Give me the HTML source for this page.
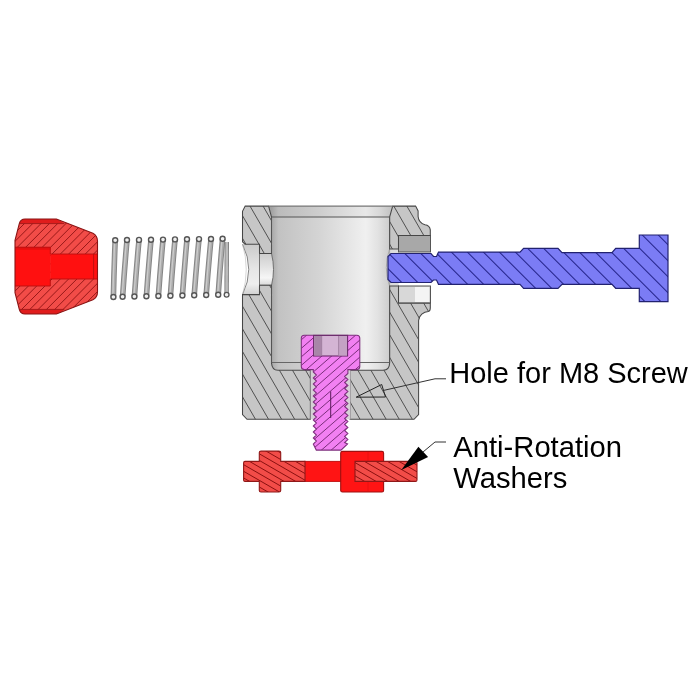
<!DOCTYPE html>
<html><head><meta charset="utf-8"><style>html,body{margin:0;padding:0;background:#fff;}svg{display:block;} text{-webkit-font-smoothing:antialiased;} .txt{will-change:transform;}</style></head>
<body><svg width="700" height="700" viewBox="0 0 700 700">
<defs><clipPath id="capc"><path d="M15 240.4 L19.3 223.6 Q20.6 219 25 219 L56.4 219 L92.9 233.3 Q97.5 235.8 97.5 241.1 L97.5 291.9 Q97.5 297.2 92.9 299.7 L56.4 314 L25 314 Q20.6 314 19.3 309.4 L15 292.6 Z"/></clipPath><linearGradient id="bore" x1="271.5" x2="389.5" y1="0" y2="0" gradientUnits="userSpaceOnUse">
<stop offset="0" stop-color="#a8a8a8"/><stop offset="0.06" stop-color="#c2c2c2"/><stop offset="0.4" stop-color="#d4d4d4"/><stop offset="0.8" stop-color="#f0f0f0"/><stop offset="0.9" stop-color="#e2e2e2"/><stop offset="1" stop-color="#cdcdcd"/></linearGradient><linearGradient id="hole" x1="0" x2="0" y1="244" y2="294" gradientUnits="userSpaceOnUse">
<stop offset="0" stop-color="#cacaca"/><stop offset="0.5" stop-color="#e6e6e6"/><stop offset="0.8" stop-color="#eeeeee"/><stop offset="1" stop-color="#d2d2d2"/></linearGradient>
<linearGradient id="hole2" x1="0" x2="0" y1="253" y2="286" gradientUnits="userSpaceOnUse">
<stop offset="0" stop-color="#cccccc"/><stop offset="0.45" stop-color="#e4e4e4"/><stop offset="0.75" stop-color="#f6f6f6"/><stop offset="1" stop-color="#d6d6d6"/></linearGradient><clipPath id="bodyc"><path d="M245.2 206.1 H268.6 L271.5 217 V253.5 H259.5 V244.2 H245 L242.5 241.7 V211.3 Z"/><path d="M242.5 294.6 H259.5 V285.3 H271.5 V363 Q272 370.3 278 370.3 H310.4 V419.3 H247 L242.5 414.5 Z"/><path d="M392.7 206.1 H415.6 L418.1 210.9 V216.5 A9.5 9.5 0 0 0 425 224.7 A6 6 0 0 1 430.3 229.8 V235.5 H398.5 V249 H389.6 V217 Z"/><path d="M389.6 286 H398.5 V303.3 H430.3 V308 Q430.3 311 428.4 311.5 A10 10 0 0 0 418.6 320.5 V414.5 L414 419.3 H350 V370.3 H383 Q389.6 370 389.6 363 Z"/></clipPath><clipPath id="shc"><path d="M391 253.5 H431 L433.5 256.5 H436.5 L438.5 252.1 H520 L523.6 248.3 H558 L562 252.6 H612 L615.7 248.3 H639.3 V235 H668 V301.7 H639.3 V288.3 H615.7 L612 284.3 H562 L558 288.3 H523.6 L520 284.3 H438.5 L436.5 280 H433.5 L431 282.5 H391 L388 279.5 V256.5 Z"/></clipPath><clipPath id="scc"><path d="M304.3 335.2 H356.8 Q359.8 335.2 359.8 338.2 V366.6 Q359.8 369.6 356.8 369.6 H347.9 L347.9 373.50 L344.6 376.50 L347.9 379.50 L344.6 382.50 L347.9 385.50 L344.6 388.50 L347.9 391.50 L344.6 394.50 L347.9 397.50 L344.6 400.50 L347.9 403.50 L344.6 406.50 L347.9 409.50 L344.6 412.50 L347.9 415.50 L344.6 418.50 L347.9 421.50 L344.6 424.50 L347.9 427.50 L344.6 430.50 L347.9 433.50 L344.6 436.50 L347.9 439.50 L344.6 442.50 L347.6 444 L341 450.1 H316.3 L313.3 444 L316.4 441.00 L313.3 438.00 L316.4 435.00 L313.3 432.00 L316.4 429.00 L313.3 426.00 L316.4 423.00 L313.3 420.00 L316.4 417.00 L313.3 414.00 L316.4 411.00 L313.3 408.00 L316.4 405.00 L313.3 402.00 L316.4 399.00 L313.3 396.00 L316.4 393.00 L313.3 390.00 L316.4 387.00 L313.3 384.00 L316.4 381.00 L313.3 378.00 L316.4 375.00 L313.3 372.00 L313.3 369.6 H304.3 Q301.3 369.6 301.3 366.6 V338.2 Q301.3 335.2 304.3 335.2 Z"/></clipPath><clipPath id="wc"><path d="M245 461.4 H259.3 V452.5 Q259.3 451.1 261 451.1 H279 Q280.7 451.1 280.7 452.5 V461.4 H305 V481.4 H280.7 V490.5 Q280.7 492 279 492 H261 Q259.3 492 259.3 490.5 V481.4 H245 Q243.6 481.4 243.6 480 V463 Q243.6 461.4 245 461.4 Z"/><path d="M355 461.4 H415.5 Q417 461.4 417 463 V480 Q417 481.4 415.5 481.4 H355 Z"/></clipPath></defs>
<rect width="700" height="700" fill="#fff"/>
<path d="M15 240.4 L19.3 223.6 Q20.6 219 25 219 L56.4 219 L92.9 233.3 Q97.5 235.8 97.5 241.1 L97.5 291.9 Q97.5 297.2 92.9 299.7 L56.4 314 L25 314 Q20.6 314 19.3 309.4 L15 292.6 Z" fill="#f24c48"/>
<path clip-path="url(#capc)" d="M-11.80 210L-121.80 320M-3.50 210L-113.50 320M4.80 210L-105.20 320M13.10 210L-96.90 320M21.40 210L-88.60 320M29.70 210L-80.30 320M38.00 210L-72.00 320M46.30 210L-63.70 320M54.60 210L-55.40 320M62.90 210L-47.10 320M71.20 210L-38.80 320M79.50 210L-30.50 320M87.80 210L-22.20 320M96.10 210L-13.90 320M104.40 210L-5.60 320M112.70 210L2.70 320M121.00 210L11.00 320M129.30 210L19.30 320M137.60 210L27.60 320M145.90 210L35.90 320M154.20 210L44.20 320M162.50 210L52.50 320M170.80 210L60.80 320M179.10 210L69.10 320M187.40 210L77.40 320M195.70 210L85.70 320M204.00 210L94.00 320M212.30 210L102.30 320M220.60 210L110.60 320M228.90 210L118.90 320" stroke="#921616" stroke-width="0.95" fill="none"/>
<path d="M19.3 223.6 Q20.6 219 25 219 L56.4 219 L64.3 223.6 Z" fill="#e01c1c"/>
<path d="M19.3 309.4 Q20.6 314 25 314 L56.4 314 L64.3 309.4 Z" fill="#e01c1c"/>
<rect x="15" y="247.2" width="35.3" height="38.8" fill="#ff1010"/>
<rect x="50.3" y="254" width="47.2" height="25" fill="#ff1010"/>
<rect x="15" y="247.2" width="35.3" height="2.5" fill="#e41010"/>
<path d="M15 247.2 H50.3 V254 H97.5 M97.5 279 H50.3 V286 H15 M93.6 254 V279" stroke="#b81010" stroke-width="0.9" fill="none"/>
<path d="M19.3 223.6 H64.3 M19.3 309.4 H64.3" stroke="#a01818" stroke-width="0.9" fill="none"/>
<path d="M15 240.4 L19.3 223.6 Q20.6 219 25 219 L56.4 219 L92.9 233.3 Q97.5 235.8 97.5 241.1 L97.5 291.9 Q97.5 297.2 92.9 299.7 L56.4 314 L25 314 Q20.6 314 19.3 309.4 L15 292.6 Z" fill="none" stroke="#8a1414" stroke-width="1.1"/>
<path d="M115.2 240.20 Q114.00000000000001 268.60 113.4 297.00" stroke="#858585" stroke-width="5.6" fill="none"/>
<path d="M115.2 240.20 Q114.00000000000001 268.60 113.4 297.00" stroke="#acacac" stroke-width="3.6" fill="none"/>
<path d="M115.2 240.20 Q114.00000000000001 268.60 113.4 297.00" stroke="#cbcbcb" stroke-width="1.3" fill="none" transform="translate(-0.5,0)"/>
<circle cx="115.2" cy="240.20" r="2.5" fill="#f0f0f0" stroke="#555" stroke-width="1.4"/>
<circle cx="113.4" cy="297.00" r="2.5" fill="#f0f0f0" stroke="#555" stroke-width="1.4"/>
<path d="M127 240.04 Q124.5 268.40 122.6 296.76" stroke="#858585" stroke-width="5.6" fill="none"/>
<path d="M127 240.04 Q124.5 268.40 122.6 296.76" stroke="#acacac" stroke-width="3.6" fill="none"/>
<path d="M127 240.04 Q124.5 268.40 122.6 296.76" stroke="#cbcbcb" stroke-width="1.3" fill="none" transform="translate(-0.5,0)"/>
<circle cx="127" cy="240.04" r="2.5" fill="#f0f0f0" stroke="#555" stroke-width="1.4"/>
<circle cx="122.6" cy="296.76" r="2.5" fill="#f0f0f0" stroke="#555" stroke-width="1.4"/>
<path d="M139 239.89 Q136.39999999999998 268.20 134.4 296.51" stroke="#858585" stroke-width="5.6" fill="none"/>
<path d="M139 239.89 Q136.39999999999998 268.20 134.4 296.51" stroke="#acacac" stroke-width="3.6" fill="none"/>
<path d="M139 239.89 Q136.39999999999998 268.20 134.4 296.51" stroke="#cbcbcb" stroke-width="1.3" fill="none" transform="translate(-0.5,0)"/>
<circle cx="139" cy="239.89" r="2.5" fill="#f0f0f0" stroke="#555" stroke-width="1.4"/>
<circle cx="134.4" cy="296.51" r="2.5" fill="#f0f0f0" stroke="#555" stroke-width="1.4"/>
<path d="M151 239.73 Q148.39999999999998 268.00 146.4 296.27" stroke="#858585" stroke-width="5.6" fill="none"/>
<path d="M151 239.73 Q148.39999999999998 268.00 146.4 296.27" stroke="#acacac" stroke-width="3.6" fill="none"/>
<path d="M151 239.73 Q148.39999999999998 268.00 146.4 296.27" stroke="#cbcbcb" stroke-width="1.3" fill="none" transform="translate(-0.5,0)"/>
<circle cx="151" cy="239.73" r="2.5" fill="#f0f0f0" stroke="#555" stroke-width="1.4"/>
<circle cx="146.4" cy="296.27" r="2.5" fill="#f0f0f0" stroke="#555" stroke-width="1.4"/>
<path d="M163 239.58 Q160.39999999999998 267.80 158.4 296.02" stroke="#858585" stroke-width="5.6" fill="none"/>
<path d="M163 239.58 Q160.39999999999998 267.80 158.4 296.02" stroke="#acacac" stroke-width="3.6" fill="none"/>
<path d="M163 239.58 Q160.39999999999998 267.80 158.4 296.02" stroke="#cbcbcb" stroke-width="1.3" fill="none" transform="translate(-0.5,0)"/>
<circle cx="163" cy="239.58" r="2.5" fill="#f0f0f0" stroke="#555" stroke-width="1.4"/>
<circle cx="158.4" cy="296.02" r="2.5" fill="#f0f0f0" stroke="#555" stroke-width="1.4"/>
<path d="M175 239.42 Q172.39999999999998 267.60 170.4 295.78" stroke="#858585" stroke-width="5.6" fill="none"/>
<path d="M175 239.42 Q172.39999999999998 267.60 170.4 295.78" stroke="#acacac" stroke-width="3.6" fill="none"/>
<path d="M175 239.42 Q172.39999999999998 267.60 170.4 295.78" stroke="#cbcbcb" stroke-width="1.3" fill="none" transform="translate(-0.5,0)"/>
<circle cx="175" cy="239.42" r="2.5" fill="#f0f0f0" stroke="#555" stroke-width="1.4"/>
<circle cx="170.4" cy="295.78" r="2.5" fill="#f0f0f0" stroke="#555" stroke-width="1.4"/>
<path d="M187 239.27 Q184.39999999999998 267.40 182.4 295.53" stroke="#858585" stroke-width="5.6" fill="none"/>
<path d="M187 239.27 Q184.39999999999998 267.40 182.4 295.53" stroke="#acacac" stroke-width="3.6" fill="none"/>
<path d="M187 239.27 Q184.39999999999998 267.40 182.4 295.53" stroke="#cbcbcb" stroke-width="1.3" fill="none" transform="translate(-0.5,0)"/>
<circle cx="187" cy="239.27" r="2.5" fill="#f0f0f0" stroke="#555" stroke-width="1.4"/>
<circle cx="182.4" cy="295.53" r="2.5" fill="#f0f0f0" stroke="#555" stroke-width="1.4"/>
<path d="M199 239.11 Q196.29999999999998 267.20 194.2 295.29" stroke="#858585" stroke-width="5.6" fill="none"/>
<path d="M199 239.11 Q196.29999999999998 267.20 194.2 295.29" stroke="#acacac" stroke-width="3.6" fill="none"/>
<path d="M199 239.11 Q196.29999999999998 267.20 194.2 295.29" stroke="#cbcbcb" stroke-width="1.3" fill="none" transform="translate(-0.5,0)"/>
<circle cx="199" cy="239.11" r="2.5" fill="#f0f0f0" stroke="#555" stroke-width="1.4"/>
<circle cx="194.2" cy="295.29" r="2.5" fill="#f0f0f0" stroke="#555" stroke-width="1.4"/>
<path d="M211 238.96 Q208.29999999999998 267.00 206.2 295.04" stroke="#858585" stroke-width="5.6" fill="none"/>
<path d="M211 238.96 Q208.29999999999998 267.00 206.2 295.04" stroke="#acacac" stroke-width="3.6" fill="none"/>
<path d="M211 238.96 Q208.29999999999998 267.00 206.2 295.04" stroke="#cbcbcb" stroke-width="1.3" fill="none" transform="translate(-0.5,0)"/>
<circle cx="211" cy="238.96" r="2.5" fill="#f0f0f0" stroke="#555" stroke-width="1.4"/>
<circle cx="206.2" cy="295.04" r="2.5" fill="#f0f0f0" stroke="#555" stroke-width="1.4"/>
<path d="M222.6 238.80 Q220.09999999999997 266.80 218.2 294.80" stroke="#858585" stroke-width="5.6" fill="none"/>
<path d="M222.6 238.80 Q220.09999999999997 266.80 218.2 294.80" stroke="#acacac" stroke-width="3.6" fill="none"/>
<path d="M222.6 238.80 Q220.09999999999997 266.80 218.2 294.80" stroke="#cbcbcb" stroke-width="1.3" fill="none" transform="translate(-0.5,0)"/>
<circle cx="222.6" cy="238.80" r="2.5" fill="#f0f0f0" stroke="#555" stroke-width="1.4"/>
<circle cx="218.2" cy="294.80" r="2.5" fill="#f0f0f0" stroke="#555" stroke-width="1.4"/>
<path d="M226.8 242 L226.6 294.8" stroke="#7f7f7f" stroke-width="4.4" fill="none"/>
<path d="M226.8 242 L226.6 294.8" stroke="#bcbcbc" stroke-width="2.6" fill="none"/>
<circle cx="226.6" cy="294.8" r="2.4" fill="#f0f0f0" stroke="#555" stroke-width="1.3"/>
<rect x="271.5" y="206" width="118" height="164" fill="url(#bore)"/>
<path d="M268.6 206 H392.7 L389.6 217 H271.5 Z" fill="url(#bore)"/>
<path d="M268.6 206 H392.7 L389.6 217 H271.5 Z" fill="#000" opacity="0.03"/>
<path d="M271.5 217 H389.6" stroke="#555" stroke-width="1"/>
<path d="M271.5 362.5 H389.6" stroke="#666" stroke-width="1"/>
<path d="M242.5 244.2 Q255 269.4 242.5 294.6 H259.5 V244.2 Z" fill="url(#hole)"/>
<path d="M242.5 244.2 Q255 269.4 242.5 294.6" fill="none" stroke="#777" stroke-width="0.9"/>
<path d="M242.5 244.2 Q250 269.4 242.5 294.6" fill="none" stroke="#bbb" stroke-width="0.6"/>
<path d="M259.5 253.5 H271.5 Q275.5 269.4 271.5 285.3 H259.5 Z" fill="url(#hole2)" stroke="#666" stroke-width="0.9"/>
<rect x="389.6" y="249" width="9" height="37" fill="#dcdcdc"/>
<path d="M389.6 249 Q383 267.5 389.6 286 Z" fill="#e6e6e6" stroke="#999" stroke-width="0.8"/>
<rect x="398.5" y="235.5" width="32" height="16.5" fill="#a8a8a8" stroke="#555" stroke-width="1"/>
<rect x="398.5" y="286" width="32" height="17" fill="#d8d8d8" stroke="#555" stroke-width="1"/>
<rect x="415" y="287" width="14" height="15" fill="#f4f4f4"/>
<path d="M245.2 206.1 H268.6 L271.5 217 V253.5 H259.5 V244.2 H245 L242.5 241.7 V211.3 Z" fill="#c6c6c6"/>
<path d="M242.5 294.6 H259.5 V285.3 H271.5 V363 Q272 370.3 278 370.3 H310.4 V419.3 H247 L242.5 414.5 Z" fill="#c6c6c6"/>
<path d="M392.7 206.1 H415.6 L418.1 210.9 V216.5 A9.5 9.5 0 0 0 425 224.7 A6 6 0 0 1 430.3 229.8 V235.5 H398.5 V249 H389.6 V217 Z" fill="#c6c6c6"/>
<path d="M389.6 286 H398.5 V303.3 H430.3 V308 Q430.3 311 428.4 311.5 A10 10 0 0 0 418.6 320.5 V414.5 L414 419.3 H350 V370.3 H383 Q389.6 370 389.6 363 Z" fill="#c6c6c6"/>
<path clip-path="url(#bodyc)" d="M76.59 200L206.49 425M89.66 200L219.56 425M102.73 200L232.63 425M115.80 200L245.70 425M128.87 200L258.77 425M141.94 200L271.84 425M155.01 200L284.91 425M168.08 200L297.98 425M181.15 200L311.05 425M194.22 200L324.12 425M207.29 200L337.19 425M220.36 200L350.26 425M233.43 200L363.33 425M246.50 200L376.40 425M259.57 200L389.47 425M272.64 200L402.54 425M285.71 200L415.61 425M298.78 200L428.68 425M311.85 200L441.75 425M324.92 200L454.82 425M337.99 200L467.89 425M351.06 200L480.96 425M364.13 200L494.03 425M377.20 200L507.10 425M390.27 200L520.17 425M403.34 200L533.24 425M416.41 200L546.31 425M429.48 200L559.38 425M442.55 200L572.45 425M455.62 200L585.52 425" stroke="#4a4a4a" stroke-width="0.95" fill="none"/>
<path d="M245.2 206.1 H268.6 L271.5 217 V253.5 H259.5 V244.2 H245 L242.5 241.7 V211.3 Z" fill="none" stroke="#464646" stroke-width="1.05"/>
<path d="M242.5 294.6 H259.5 V285.3 H271.5 V363 Q272 370.3 278 370.3 H310.4 V419.3 H247 L242.5 414.5 Z" fill="none" stroke="#464646" stroke-width="1.05"/>
<path d="M392.7 206.1 H415.6 L418.1 210.9 V216.5 A9.5 9.5 0 0 0 425 224.7 A6 6 0 0 1 430.3 229.8 V235.5 H398.5 V249 H389.6 V217 Z" fill="none" stroke="#464646" stroke-width="1.05"/>
<path d="M389.6 286 H398.5 V303.3 H430.3 V308 Q430.3 311 428.4 311.5 A10 10 0 0 0 418.6 320.5 V414.5 L414 419.3 H350 V370.3 H383 Q389.6 370 389.6 363 Z" fill="none" stroke="#464646" stroke-width="1.05"/>
<path d="M268.6 206.1 H392.7" stroke="#777" stroke-width="1.4"/>
<path d="M271.5 217 V253.5 M271.5 285.3 V363 M389.6 217 V249 M389.6 286 V363" stroke="#555" stroke-width="1"/>
<path d="M391 253.5 H431 L433.5 256.5 H436.5 L438.5 252.1 H520 L523.6 248.3 H558 L562 252.6 H612 L615.7 248.3 H639.3 V235 H668 V301.7 H639.3 V288.3 H615.7 L612 284.3 H562 L558 288.3 H523.6 L520 284.3 H438.5 L436.5 280 H433.5 L431 282.5 H391 L388 279.5 V256.5 Z" fill="#7b7cf5"/>
<path clip-path="url(#shc)" d="M269.30 230L349.30 310M285.30 230L365.30 310M301.30 230L381.30 310M317.30 230L397.30 310M333.30 230L413.30 310M349.30 230L429.30 310M365.30 230L445.30 310M381.30 230L461.30 310M397.30 230L477.30 310M413.30 230L493.30 310M429.30 230L509.30 310M445.30 230L525.30 310M461.30 230L541.30 310M477.30 230L557.30 310M493.30 230L573.30 310M509.30 230L589.30 310M525.30 230L605.30 310M541.30 230L621.30 310M557.30 230L637.30 310M573.30 230L653.30 310M589.30 230L669.30 310M605.30 230L685.30 310M621.30 230L701.30 310M637.30 230L717.30 310M653.30 230L733.30 310M669.30 230L749.30 310M685.30 230L765.30 310M701.30 230L781.30 310" stroke="#2a2a90" stroke-width="1.05" fill="none"/>
<path d="M391 253.5 H431 L433.5 256.5 H436.5 L438.5 252.1 H520 L523.6 248.3 H558 L562 252.6 H612 L615.7 248.3 H639.3 V235 H668 V301.7 H639.3 V288.3 H615.7 L612 284.3 H562 L558 288.3 H523.6 L520 284.3 H438.5 L436.5 280 H433.5 L431 282.5 H391 L388 279.5 V256.5 Z" fill="none" stroke="#222270" stroke-width="1.2"/>
<rect x="310.6" y="370" width="39.8" height="49.3" fill="#d6d0d6"/>
<path d="M304.3 335.2 H356.8 Q359.8 335.2 359.8 338.2 V366.6 Q359.8 369.6 356.8 369.6 H347.9 L347.9 373.50 L344.6 376.50 L347.9 379.50 L344.6 382.50 L347.9 385.50 L344.6 388.50 L347.9 391.50 L344.6 394.50 L347.9 397.50 L344.6 400.50 L347.9 403.50 L344.6 406.50 L347.9 409.50 L344.6 412.50 L347.9 415.50 L344.6 418.50 L347.9 421.50 L344.6 424.50 L347.9 427.50 L344.6 430.50 L347.9 433.50 L344.6 436.50 L347.9 439.50 L344.6 442.50 L347.6 444 L341 450.1 H316.3 L313.3 444 L316.4 441.00 L313.3 438.00 L316.4 435.00 L313.3 432.00 L316.4 429.00 L313.3 426.00 L316.4 423.00 L313.3 420.00 L316.4 417.00 L313.3 414.00 L316.4 411.00 L313.3 408.00 L316.4 405.00 L313.3 402.00 L316.4 399.00 L313.3 396.00 L316.4 393.00 L313.3 390.00 L316.4 387.00 L313.3 384.00 L316.4 381.00 L313.3 378.00 L316.4 375.00 L313.3 372.00 L313.3 369.6 H304.3 Q301.3 369.6 301.3 366.6 V338.2 Q301.3 335.2 304.3 335.2 Z" fill="#f280f2"/>
<path clip-path="url(#scc)" d="M283.18 330L139.38 455M292.98 330L149.18 455M302.78 330L158.98 455M312.58 330L168.78 455M322.38 330L178.58 455M332.18 330L188.38 455M341.98 330L198.18 455M351.78 330L207.98 455M361.58 330L217.78 455M371.38 330L227.58 455M381.18 330L237.38 455M390.98 330L247.18 455M400.78 330L256.98 455M410.58 330L266.78 455M420.38 330L276.58 455M430.18 330L286.38 455M439.98 330L296.18 455M449.78 330L305.98 455M459.58 330L315.78 455M469.38 330L325.58 455M479.18 330L335.38 455M488.98 330L345.18 455M498.78 330L354.98 455M508.58 330L364.78 455M518.38 330L374.58 455M528.18 330L384.38 455" stroke="#742a74" stroke-width="0.95" fill="none"/>
<path d="M304.3 335.2 H356.8 Q359.8 335.2 359.8 338.2 V366.6 Q359.8 369.6 356.8 369.6 H347.9 L347.9 373.50 L344.6 376.50 L347.9 379.50 L344.6 382.50 L347.9 385.50 L344.6 388.50 L347.9 391.50 L344.6 394.50 L347.9 397.50 L344.6 400.50 L347.9 403.50 L344.6 406.50 L347.9 409.50 L344.6 412.50 L347.9 415.50 L344.6 418.50 L347.9 421.50 L344.6 424.50 L347.9 427.50 L344.6 430.50 L347.9 433.50 L344.6 436.50 L347.9 439.50 L344.6 442.50 L347.6 444 L341 450.1 H316.3 L313.3 444 L316.4 441.00 L313.3 438.00 L316.4 435.00 L313.3 432.00 L316.4 429.00 L313.3 426.00 L316.4 423.00 L313.3 420.00 L316.4 417.00 L313.3 414.00 L316.4 411.00 L313.3 408.00 L316.4 405.00 L313.3 402.00 L316.4 399.00 L313.3 396.00 L316.4 393.00 L313.3 390.00 L316.4 387.00 L313.3 384.00 L316.4 381.00 L313.3 378.00 L316.4 375.00 L313.3 372.00 L313.3 369.6 H304.3 Q301.3 369.6 301.3 366.6 V338.2 Q301.3 335.2 304.3 335.2 Z" fill="none" stroke="#7e2e7e" stroke-width="1.05"/>
<rect x="313.6" y="335.4" width="34" height="20.6" fill="#d4b4d4" stroke="#6a2a6a" stroke-width="1.1"/>
<rect x="314.2" y="336" width="7.5" height="19.5" fill="#a886a8"/>
<rect x="338.6" y="336" width="8.4" height="19.5" fill="#c4a2c4"/>
<path d="M321.7 336 V355.5 M338.6 336 V355.5" stroke="#9a7a9a" stroke-width="0.8"/>
<path d="M330.7 391.4 V418" stroke="#5a1a5a" stroke-width="1"/>
<rect x="304" y="461.4" width="52" height="20" fill="#ff1414"/>
<path d="M304 461.4 H341 M304 481.4 H341" stroke="#c01010" stroke-width="1"/>
<path d="M342.5 451.4 H382 Q383.6 451.4 383.6 453 V490.5 Q383.6 492 382 492 H342.5 Q340.7 492 340.7 490.5 V453 Q340.7 451.4 342.5 451.4 Z" fill="#ff1414" stroke="#a01010" stroke-width="1.1"/>
<path d="M368 452 V491" stroke="#d01010" stroke-width="0.8" opacity="0.6"/>
<path d="M245 461.4 H259.3 V452.5 Q259.3 451.1 261 451.1 H279 Q280.7 451.1 280.7 452.5 V461.4 H305 V481.4 H280.7 V490.5 Q280.7 492 279 492 H261 Q259.3 492 259.3 490.5 V481.4 H245 Q243.6 481.4 243.6 480 V463 Q243.6 461.4 245 461.4 Z" fill="#f24c48"/>
<path d="M355 461.4 H415.5 Q417 461.4 417 463 V480 Q417 481.4 415.5 481.4 H355 Z" fill="#f24c48"/>
<path clip-path="url(#wc)" d="M140.56 445L227.17 495M152.06 445L238.67 495M163.56 445L250.17 495M175.06 445L261.67 495M186.56 445L273.17 495M198.06 445L284.67 495M209.56 445L296.17 495M221.06 445L307.67 495M232.56 445L319.17 495M244.06 445L330.67 495M255.56 445L342.17 495M267.06 445L353.67 495M278.56 445L365.17 495M290.06 445L376.67 495M301.56 445L388.17 495M313.06 445L399.67 495M324.56 445L411.17 495M336.06 445L422.67 495M347.56 445L434.17 495M359.06 445L445.67 495M370.56 445L457.17 495M382.06 445L468.67 495M393.56 445L480.17 495M405.06 445L491.67 495M416.56 445L503.17 495M428.06 445L514.67 495M439.56 445L526.17 495" stroke="#8a1010" stroke-width="1.0" fill="none"/>
<path d="M245 461.4 H259.3 V452.5 Q259.3 451.1 261 451.1 H279 Q280.7 451.1 280.7 452.5 V461.4 H305 V481.4 H280.7 V490.5 Q280.7 492 279 492 H261 Q259.3 492 259.3 490.5 V481.4 H245 Q243.6 481.4 243.6 480 V463 Q243.6 461.4 245 461.4 Z" fill="none" stroke="#901818" stroke-width="1.1"/>
<path d="M355 461.4 H415.5 Q417 461.4 417 463 V480 Q417 481.4 415.5 481.4 H355 Z" fill="none" stroke="#901818" stroke-width="1.1"/>
<path d="M356.2 397.2 L381.7 384.5 L385.5 397 Z" fill="none" stroke="#222" stroke-width="1"/>
<path d="M383.2 390.5 L435 378.8 H446" stroke="#333" stroke-width="1" fill="none"/>
<path d="M401.3 470.1 L418.4 446.7 L428.1 457 Z" fill="#000"/>
<path d="M423 452 L435 442 H446" stroke="#333" stroke-width="1" fill="none"/>
<g class="txt"><text x="449.3" y="383.2" font-family="Liberation Sans, sans-serif" font-size="29" fill="#000">Hole for M8 Screw</text>
<text x="453.3" y="456.9" font-family="Liberation Sans, sans-serif" font-size="29.2" fill="#000">Anti-Rotation</text>
<text x="453.3" y="487.9" font-family="Liberation Sans, sans-serif" font-size="29.2" fill="#000">Washers</text></g>
</svg></body></html>
